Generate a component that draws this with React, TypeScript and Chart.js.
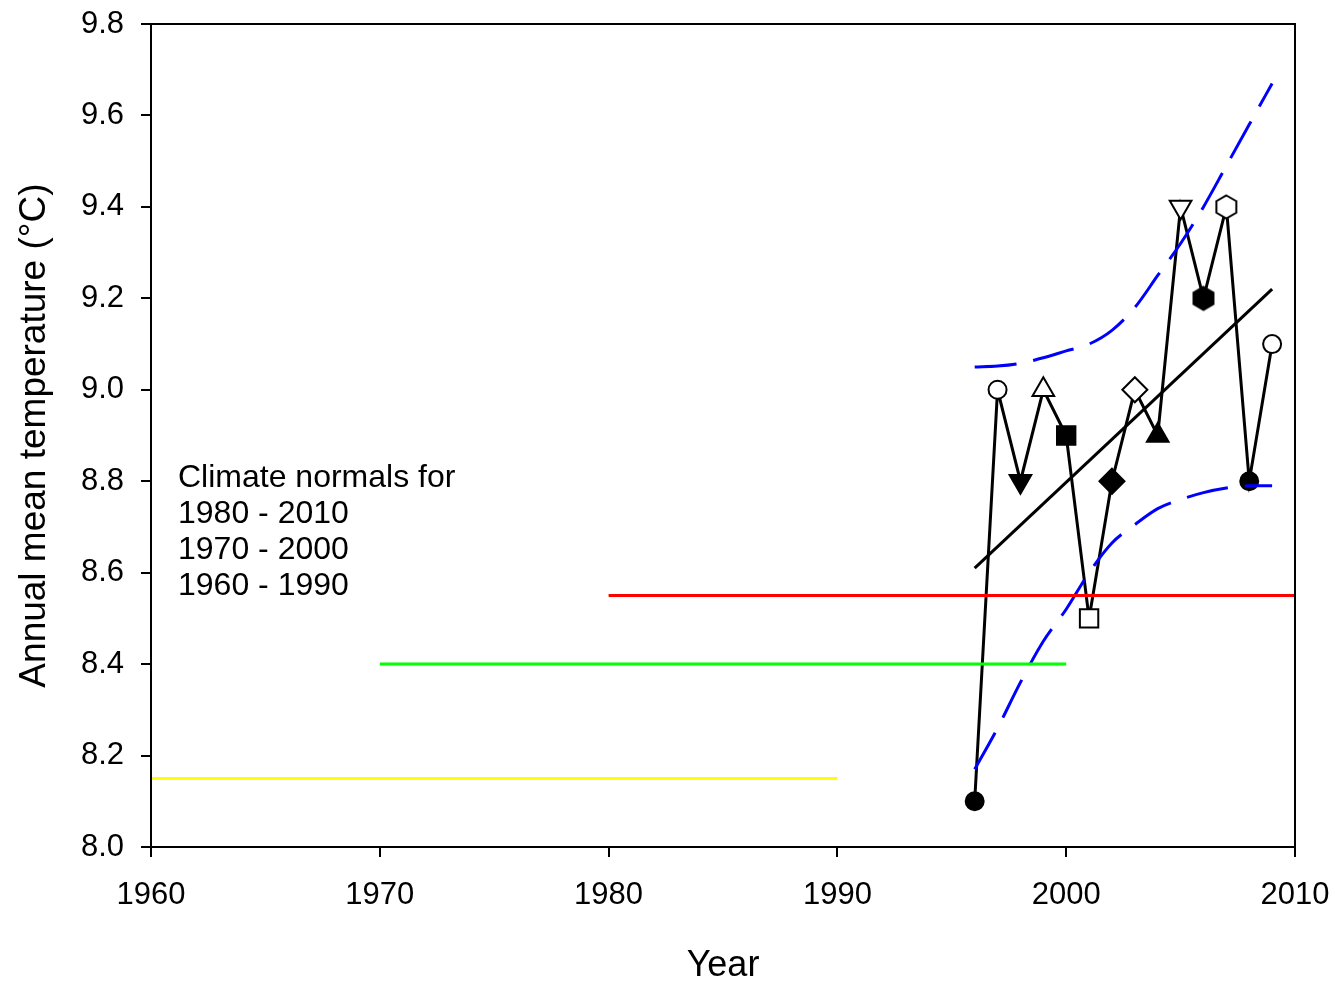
import React, { useEffect, useRef } from "react";
import { Chart, registerables } from "chart.js";

Chart.register(...registerables);

// ---- Data ----
const years = [1996, 1997, 1998, 1999, 2000, 2001, 2002, 2003, 2004, 2005, 2006, 2007, 2008, 2009];
const temps = [8.1, 9.0, 8.8, 9.0, 8.9, 8.5, 8.8, 9.0, 8.9, 9.4, 9.2, 9.4, 8.8, 9.1];

const trendYears = [1996, 2009];
const trendValues = [8.61, 9.22];

const upperBand = [9.05, 9.052, 9.058, 9.07, 9.085, 9.1, 9.13, 9.18, 9.25, 9.32, 9.4, 9.49, 9.58, 9.67];
const lowerBand = [8.17, 8.26, 8.36, 8.45, 8.52, 8.6, 8.665, 8.705, 8.74, 8.76, 8.775, 8.785, 8.79, 8.79];

const normalLabels = ["1980 - 2010", "1970 - 2000", "1960 - 1990"];
const normalStart = [1980, 1970, 1960];
const normalEnd = [2010, 2000, 1990];
const normalValues = [8.55, 8.4, 8.15];
const normalColors = ["#ff0000", "#00ff00", "#ffff00"];

const xTicks = [1960, 1970, 1980, 1990, 2000, 2010];
const yTicks = [8.0, 8.2, 8.4, 8.6, 8.8, 9.0, 9.2, 9.4, 9.6, 9.8];

// marker styles per year
const markerKinds = [
  "circle", "circle", "triangleDown", "triangle", "rect", "rect", "rectRot",
  "rectRot", "triangle", "triangleDown", "hex", "hex", "circle", "circle",
];
const markerFilled = [true, false, true, false, true, false, true, false, true, false, true, false, true, false];

const FONT = "'Liberation Sans', Arial, sans-serif";

function makeHex(filled: boolean): HTMLCanvasElement {
  const c = document.createElement("canvas");
  c.width = 26;
  c.height = 28;
  const ctx = c.getContext("2d")!;
  const cx = 13, cy = 14, r = 11.5;
  ctx.beginPath();
  for (let i = 0; i < 6; i++) {
    const a = -Math.PI / 2 + (i * Math.PI) / 3;
    const px = cx + r * Math.cos(a);
    const py = cy + r * Math.sin(a);
    if (i === 0) ctx.moveTo(px, py);
    else ctx.lineTo(px, py);
  }
  ctx.closePath();
  ctx.fillStyle = filled ? "#000" : "#fff";
  ctx.fill();
  ctx.lineWidth = 2;
  ctx.strokeStyle = "#000";
  ctx.stroke();
  return c;
}

export default function App() {
  const ref = useRef<HTMLCanvasElement | null>(null);

  useEffect(() => {
    if (!ref.current) return;
    const hexFilled = makeHex(true);
    const hexOpen = makeHex(false);

    const pointStyles = markerKinds.map((k, i) => {
      if (k === "hex") return markerFilled[i] ? hexFilled : hexOpen;
      if (k === "triangleDown") return "triangle";
      return k;
    });
    const pointRotations = markerKinds.map((k) => (k === "triangleDown" ? 180 : 0));
    const pointRadii = markerKinds.map((k) => {
      if (k === "circle") return 9;
      if (k === "rect") return 13;
      if (k === "rectRot") return 12.5;
      return 12.5;
    });
    const pointBg = markerFilled.map((f) => (f ? "#000" : "#fff"));

    const frame = {
      id: "frame",
      afterDraw(chart: any) {
        const { ctx, chartArea } = chart;
        ctx.save();
        ctx.strokeStyle = "#000";
        ctx.lineWidth = 2;
        ctx.strokeRect(chartArea.left, chartArea.top, chartArea.right - chartArea.left, chartArea.bottom - chartArea.top);
        ctx.fillStyle = "#000";
        ctx.font = `32px ${FONT}`;
        ctx.textBaseline = "alphabetic";
        ctx.textAlign = "left";
        const lines = ["Climate normals for", ...normalLabels];
        lines.forEach((t, i) => ctx.fillText(t, 178, 487 + i * 36));
        ctx.restore();
      },
    };

    const datasets: any[] = [];
    normalValues.forEach((v, i) => {
      datasets.push({
        type: "line",
        data: [
          { x: normalStart[i], y: v },
          { x: normalEnd[i], y: v },
        ],
        borderColor: normalColors[i],
        borderWidth: 3,
        pointRadius: 0,
      });
    });
    [upperBand, lowerBand].forEach((band) => {
      datasets.push({
        type: "line",
        data: years.map((x, i) => ({ x, y: band[i] })),
        borderColor: "#0000ff",
        borderWidth: 3,
        borderDash: [42, 17],
        pointRadius: 0,
        cubicInterpolationMode: "monotone",
      });
    });
    datasets.push({
      type: "line",
      data: trendYears.map((x, i) => ({ x, y: trendValues[i] })),
      borderColor: "#000",
      borderWidth: 3,
      pointRadius: 0,
    });
    datasets.push({
      type: "line",
      data: years.map((x, i) => ({ x, y: temps[i] })),
      borderColor: "#000",
      borderWidth: 3,
      pointStyle: pointStyles,
      pointRotation: pointRotations,
      pointRadius: pointRadii,
      pointBackgroundColor: pointBg,
      pointBorderColor: "#000",
      pointBorderWidth: 2,
      clip: false,
    });

    const chart = new Chart(ref.current, {
      type: "line",
      data: { datasets },
      options: {
        responsive: false,
        animation: false,
        events: [],
        layout: { padding: { top: 24, right: 40, left: 0, bottom: 0 } },
        plugins: { legend: { display: false }, tooltip: { enabled: false } },
        scales: {
          x: {
            type: "linear",
            min: 1960,
            max: 2010,
            afterBuildTicks: (s: any) => {
              s.ticks = xTicks.map((v) => ({ value: v }));
            },
            ticks: {
              color: "#000",
              font: { family: FONT, size: 31 },
              padding: 20,
              maxRotation: 0,
              callback: (v: any) => String(v),
            },
            grid: { drawOnChartArea: false, drawTicks: true, tickLength: 10, color: "#000", lineWidth: 2 },
            border: { color: "#000", width: 2 },
            title: {
              display: true,
              text: "Year",
              color: "#000",
              font: { family: FONT, size: 36 },
              padding: { top: 0, bottom: -4 },
            },
            afterFit: (s: any) => {
              s.height = 137;
              s.paddingLeft = 0;
              s.paddingRight = 0;
            },
          },
          y: {
            type: "linear",
            min: 8.0,
            max: 9.8,
            afterBuildTicks: (s: any) => {
              s.ticks = yTicks.map((v) => ({ value: v }));
            },
            ticks: {
              color: "#000",
              font: { family: FONT, size: 31 },
              padding: 17,
              callback: (v: any) => Number(v).toFixed(1),
            },
            grid: { drawOnChartArea: false, drawTicks: true, tickLength: 10, color: "#000", lineWidth: 2 },
            border: { color: "#000", width: 2 },
            title: {
              display: true,
              text: "Annual mean temperature (°C)",
              color: "#000",
              font: { family: FONT, size: 37 },
              padding: { top: 13, bottom: 0 },
            },
            afterFit: (s: any) => {
              s.width = 151;
              s.paddingTop = 0;
              s.paddingBottom = 0;
            },
          },
        },
      },
      plugins: [frame],
    });
    return () => chart.destroy();
  }, []);

  return (
    <div style={{ position: "absolute", left: 0, top: 0, width: 1335, height: 984, background: "#fff" }}>
      <canvas ref={ref} width={1335} height={984} style={{ display: "block" }} />
    </div>
  );
}
